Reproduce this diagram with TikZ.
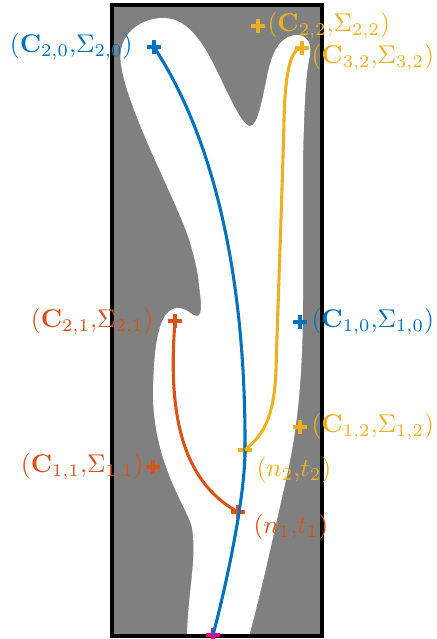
\documentclass[tikz,border=0pt]{standalone}
\usetikzlibrary{shapes.misc}
\definecolor{mblue}{rgb}{0,0.447,0.741}
\definecolor{morange}{rgb}{0.850,0.325,0.098}
\definecolor{myellow}{rgb}{0.929,0.694,0.125}
\definecolor{mgray}{gray}{0.5}
\begin{document}
\begin{tikzpicture}[x=0.39pt,y=-0.39pt,
  pm/.style={cross out, draw=#1, line width=1.2pt, minimum size=3.6pt, inner sep=0pt, outer sep=0pt, rotate=45},
  curve/.style={line width=1.2pt, draw=#1},
  lab/.style={text=#1, inner sep=0pt}]
\useasboundingbox (0,0) rectangle (437,639);
\fill[mgray] (112,5) rectangle (322,636);
\begin{scope}
\clip (112,5) rectangle (322,636);
\fill[white] (187,660) -- (187,636)
 .. controls (188,590) and (197,560) .. (192,528)
 .. controls (189,510) and (156,470) .. (153,400)
 .. controls (153,340) and (160,308) .. (178,308)
 .. controls (187,308) and (192,316) .. (197,316)
 .. controls (203,316) and (201,300) .. (199,285)
 .. controls (198,272) and (195,260) .. (192,250)
 .. controls (185,215) and (130,120) .. (121,65)
 .. controls (116,35) and (140,18) .. (163,18)
 .. controls (182,18) and (195,32) .. (207,52)
 .. controls (222,78) and (240,126) .. (250,126)
 .. controls (258,126) and (262,100) .. (268,72)
 .. controls (273,48) and (283,35) .. (297,35)
 .. controls (308,35) and (313,45) .. (309,60)
 .. controls (305,80) and (304,120) .. (303,160)
 -- (303,300)
 .. controls (303,390) and (295,440) .. (286,480)
 .. controls (279,510) and (262,590) .. (248,640)
 -- (248,660) -- cycle;
\end{scope}
\draw[line width=1.3pt] (112,5) rectangle (322,636);

% markers
\node[pm=mblue] (c20) at (154,47) {};
\node[pm=myellow] (c22) at (258,26) {};
\node[pm=myellow] (c32) at (302,48) {};
\node[pm=morange] (c21) at (175,321) {};
\node[pm=mblue] (c10) at (300,322) {};
\node[pm=myellow] (c12) at (300,427) {};
\node[pm=morange] (c11) at (153,467) {};
\node[pm=myellow] (n2) at (245,450) {};
\node[pm=morange] (n1) at (238,512) {};
\node[pm=magenta] (m) at (213,635) {};

% curves
\draw[curve=mblue] (c20.center) .. controls (215,140) and (246,280) .. (n2.center)
   .. controls (245,500) and (225,590) .. (m.center);
\draw[curve=myellow] (c32.center) .. controls (289,48) and (285,80) .. (284,120)
   .. controls (282,200) and (278,300) .. (276,370)
   .. controls (274,430) and (255,440) .. (n2.center);
\draw[curve=morange] (c21.center) .. controls (168,410) and (180,480) .. (n1.center);

% labels
\node[lab=mblue, anchor=east] (l20) at (133,47) {$(\mathbf{C}_{2,0}{,}\Sigma_{2,0})$};
\node[lab=myellow, anchor=west] (l22) at (267,26) {$(\mathbf{C}_{2,2}{,}\Sigma_{2,2})$};
\node[lab=myellow, anchor=west] (l32) at (311,58) {$(\mathbf{C}_{3,2}{,}\Sigma_{3,2})$};
\node[lab=morange, anchor=east] (l21) at (154,322) {$(\mathbf{C}_{2,1}{,}\Sigma_{2,1})$};
\node[lab=mblue, anchor=west] (l10) at (311,322) {$(\mathbf{C}_{1,0}{,}\Sigma_{1,0})$};
\node[lab=myellow, anchor=west] (l12) at (311,427) {$(\mathbf{C}_{1,2}{,}\Sigma_{1,2})$};
\node[lab=morange, anchor=east] (l11) at (144,467) {$(\mathbf{C}_{1,1}{,}\Sigma_{1,1})$};
\node[lab=myellow, anchor=west] (ln2) at (256,470) {$(n_2{,}t_2)$};
\node[lab=morange, anchor=west] (ln1) at (253,527) {$(n_1{,}t_1)$};
\end{tikzpicture}
\end{document}
